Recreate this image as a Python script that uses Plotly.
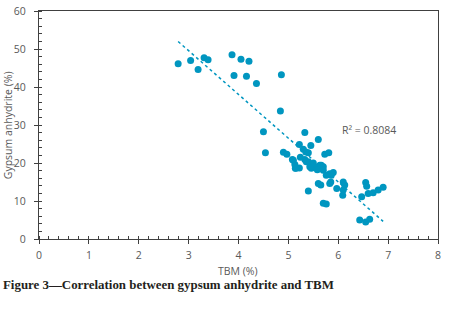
import numpy as np
import plotly.graph_objects as go

tbm = [2.79, 3.04, 3.19, 3.31, 3.39, 3.87, 4.05, 4.21, 3.91, 4.16, 4.36,
       4.86, 4.84, 4.50, 4.54, 4.90, 4.97, 5.10, 5.15, 5.22, 5.33, 5.60,
       5.45, 5.30, 5.40, 5.73, 5.81, 5.08, 5.14, 5.22, 5.33, 5.40, 5.46,
       5.53, 5.63, 5.70, 5.83, 5.60, 5.65, 5.85, 5.97, 5.40, 5.35, 5.36,
       5.43, 5.66, 5.70, 5.76, 5.86, 5.83, 5.70, 5.76, 6.10, 6.10, 6.13,
       6.09, 6.55, 6.57, 6.47, 6.60, 6.70, 6.80, 6.90, 6.43, 6.55, 6.63,
       5.13, 5.24, 5.50, 5.58, 5.90]
gypsum = [46.1, 47.0, 44.6, 47.7, 47.2, 48.5, 47.3, 46.8, 43.0, 42.8, 40.9,
          43.2, 33.7, 28.2, 22.7, 22.8, 22.3, 20.7, 18.6, 24.9, 28.0, 26.2,
          24.6, 23.6, 22.7, 22.3, 22.7, 20.9, 18.6, 18.7, 20.9, 20.3, 18.6,
          19.0, 19.4, 19.0, 17.2, 14.6, 14.2, 15.0, 13.3, 12.6, 22.9, 20.3,
          19.0, 19.4, 18.1, 16.8, 16.8, 14.6, 9.4, 9.2, 12.9, 15.0, 14.2,
          11.5, 14.9, 13.9, 11.1, 12.0, 12.2, 12.9, 13.6, 5.0, 4.5, 5.2,
          19.6, 21.5, 20.0, 18.2, 17.5]
r2_label = "R² = 0.8084"
x_title = "TBM (%)"
y_title = "Gypsum anhydrite (%)"
caption = "<b>Figure 3—Correlation between gypsum anhydrite and TBM</b>"

blue = "rgb(0,150,192)"

slope, intercept = np.polyfit(tbm, gypsum, 1)
trend_x = [min(tbm), max(tbm)]
trend_y = [slope * v + intercept for v in trend_x]

W, H = 456, 309
L, R, T, B = 39, 18, 10.5, 70
pw, ph = W - L - R, H - T - B

def px(xp):
    return (xp - L) / pw

def py(yp):
    return (H - B - yp) / ph

fig = go.Figure()
fig.add_trace(go.Scatter(x=trend_x, y=trend_y, mode="lines",
                         line=dict(color=blue, width=1.5, dash="3px,3px"),
                         hoverinfo="skip", showlegend=False))
fig.add_trace(go.Scatter(x=tbm, y=gypsum, mode="markers",
                         marker=dict(color=blue, size=7, line=dict(width=0)),
                         showlegend=False))

axis_font = dict(family="Open Sans, Lato, sans-serif", size=10.5, color="#595959")

fig.add_annotation(x=6.03, y=28.6, xref="x", yref="y", text=r2_label,
                   showarrow=False, xanchor="left", yanchor="middle", font=axis_font)
fig.add_annotation(x=px(238), y=py(271), xref="paper", yref="paper", text=x_title,
                   showarrow=False, xanchor="center", yanchor="middle", font=axis_font)
fig.add_annotation(x=px(8), y=py(125), xref="paper", yref="paper", text=y_title,
                   showarrow=False, xanchor="center", yanchor="middle", textangle=-90,
                   font=axis_font)
fig.add_annotation(x=px(1), y=py(285), xref="paper", yref="paper", text=caption,
                   showarrow=False, xanchor="left", yanchor="middle",
                   font=dict(family="Liberation Serif, serif", size=12.9, color="#231f20"))

fig.update_layout(
    width=W, height=H,
    margin=dict(l=L, r=R, t=T, b=B, autoexpand=False),
    paper_bgcolor="white", plot_bgcolor="white",
    xaxis=dict(range=[0, 8], dtick=1, showgrid=False, zeroline=False, automargin=False,
               showline=True, linecolor="#404040", linewidth=1.3, mirror=True,
               ticks="outside", ticklen=4, tickcolor="#404040", tickwidth=1,
               minor=dict(dtick=0.2, ticks="inside", ticklen=3, tickcolor="#404040", showgrid=False),
               tickfont=axis_font, ticklabelstandoff=2),
    yaxis=dict(range=[0, 60], dtick=10, showgrid=False, zeroline=False, automargin=False,
               showline=True, linecolor="#404040", linewidth=1.3, mirror=True,
               ticks="outside", ticklen=4, tickcolor="#404040", tickwidth=1,
               minor=dict(dtick=2, ticks="inside", ticklen=3, tickcolor="#404040", showgrid=False),
               tickfont=axis_font, ticklabelstandoff=6),
)

fig.write_html("out.html", config={"displayModeBar": False},
               post_script="document.body.style.margin='0';")
